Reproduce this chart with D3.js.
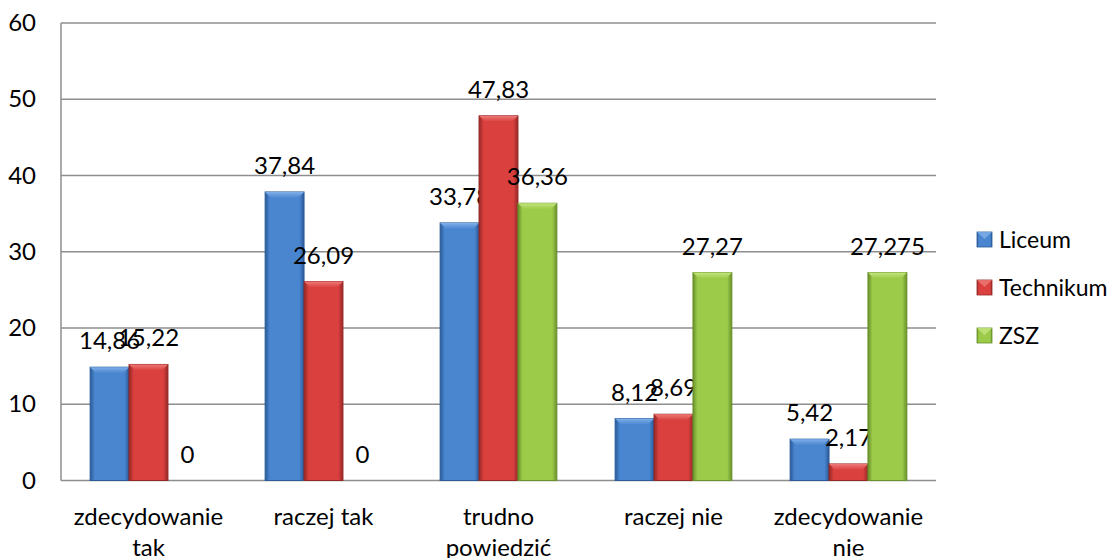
<!DOCTYPE html>
<html><head><meta charset="utf-8">
<script src="https://cdn.jsdelivr.net/npm/d3@7"></script>
<style>body{margin:0;background:#fff}svg text{font-family:Lato,"Open Sans",sans-serif;fill:#000}</style>
</head><body><svg id="c" width="1120" height="558"></svg>
<script>
const categories = [["zdecydowanie","tak"],["raczej tak"],["trudno","powiedzić"],["raczej nie"],["zdecydowanie","nie"]];
const seriesNames = ["Liceum","Technikum","ZSZ"];
const liceum = [14.86,37.84,33.78,8.12,5.42];
const technikum = [15.22,26.09,47.83,8.69,2.17];
const zsz = [0,0,36.36,27.27,27.275];
const yTicks = [0,10,20,30,40,50,60];
const colors = [
  {base:"#4a86d0", dark:"#2a5a98", light:"#7fb0ea"},
  {base:"#d9403e", dark:"#952826", light:"#ee7a78"},
  {base:"#9ccb4a", dark:"#69902a", light:"#c4e57e"}
];
const series = [liceum, technikum, zsz];
const FS = 24;
const svg = d3.select("#c");
const L=61, R=936, T=23, B=480.5;
const x0 = d3.scaleBand().domain(d3.range(categories.length)).range([L,R]).paddingInner(0.333).paddingOuter(0.1665);
const x1 = d3.scaleBand().domain(d3.range(3)).range([0,x0.bandwidth()]);
const y = d3.scaleLinear().domain([0,60]).range([B,T]);
const defs = svg.append("defs");
colors.forEach((c,i)=>{
  const g = defs.append("linearGradient").attr("id","g"+i).attr("x1","0").attr("x2","1").attr("y1","0").attr("y2","0");
  g.append("stop").attr("offset","0").attr("stop-color",c.dark);
  g.append("stop").attr("offset","0.12").attr("stop-color",c.base);
  g.append("stop").attr("offset","0.5").attr("stop-color",c.base);
  g.append("stop").attr("offset","0.88").attr("stop-color",c.base);
  g.append("stop").attr("offset","1").attr("stop-color",c.dark);
  const t = defs.append("linearGradient").attr("id","t"+i).attr("x1","0").attr("x2","0").attr("y1","0").attr("y2","1");
  t.append("stop").attr("offset","0").attr("stop-color",c.light);
  t.append("stop").attr("offset","1").attr("stop-color",c.base);
});
svg.append("g").selectAll("line").data(yTicks).join("line")
  .attr("x1",L).attr("x2",R).attr("y1",d=>y(d)).attr("y2",d=>y(d))
  .attr("stroke","#8e8e8e").attr("stroke-width",1.5);
svg.append("line").attr("x1",L).attr("x2",L).attr("y1",T).attr("y2",B).attr("stroke","#8e8e8e").attr("stroke-width",1.5);
svg.append("g").selectAll("text").data(yTicks).join("text")
  .attr("x",36).attr("y",d=>y(d)+8).attr("text-anchor","end").attr("font-size",FS).text(d=>d);
const fmt = v => String(v).replace(".",",");
series.forEach((vals,si)=>{
  const g = svg.append("g");
  vals.forEach((v,ci)=>{
    const bx = x0(ci)+x1(si), bw = x1.bandwidth(), by = y(v), bh = B-by;
    if (bh>0){
      g.append("rect").attr("x",bx).attr("y",by).attr("width",bw).attr("height",bh)
        .attr("fill",`url(#g${si})`).attr("stroke",colors[si].dark).attr("stroke-width",1);
      const inset = Math.min(6,bh/2);
      g.append("polygon").attr("points",[[bx,by],[bx+bw,by],[bx+bw-inset,by+inset],[bx+inset,by+inset]].map(p=>p.join(",")).join(" "))
        .attr("fill",`url(#t${si})`).attr("stroke","none");
    }
    g.append("text").attr("x",bx+bw/2).attr("y",by-18).attr("text-anchor","middle").attr("font-size",FS).text(fmt(v));
  });
});
categories.forEach((lines,ci)=>{
  const cx = x0(ci)+x0.bandwidth()/2;
  const t = svg.append("text").attr("x",cx).attr("y",525).attr("text-anchor","middle").attr("font-size",FS);
  lines.forEach((ln,li)=>t.append("tspan").attr("x",cx).attr("dy",li?31:0).text(ln));
});
const lg = svg.append("g");
seriesNames.forEach((n,i)=>{
  const ly = 240 + i*48;
  lg.append("rect").attr("x",977).attr("y",ly-8).attr("width",15).attr("height",15).attr("fill",`url(#g${i})`).attr("stroke",colors[i].dark).attr("stroke-width",0.8);
  lg.append("polygon").attr("points",`977,${ly-8} 992,${ly-8} 984.5,${ly-1}`).attr("fill",colors[i].light).attr("opacity",0.8);
  lg.append("text").attr("x",999).attr("y",ly+8).attr("font-size",FS-1).text(n);
});
</script></body></html>
